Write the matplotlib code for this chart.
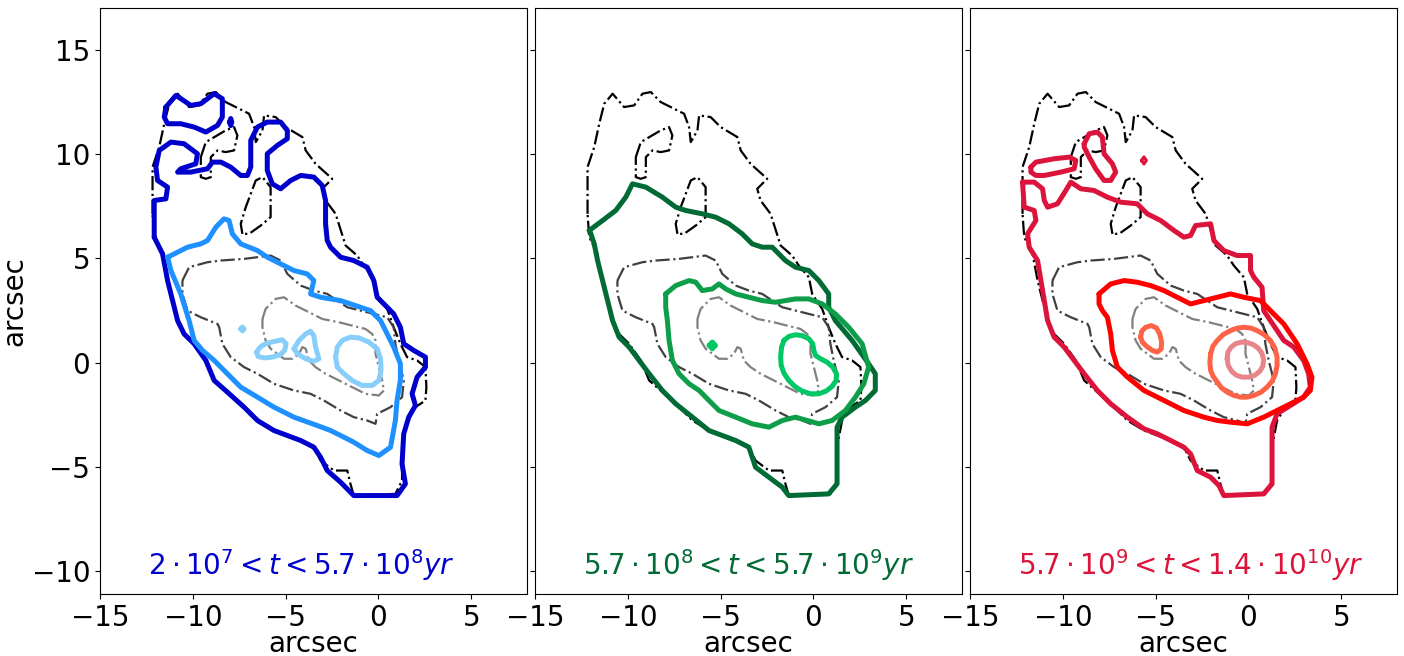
import numpy as np
import matplotlib
matplotlib.use('Agg')
import matplotlib.pyplot as plt

# ---------- contour vertices (arcsec) ----------

# total light, outer level (black)
tot1_x = [-12.17, -12.17, -11.81, -11.54, -11.27, -10.82, -10.20, -9.66, -9.21, -8.76, -8.23, -6.97, -6.70, -6.61,
          -6.25, -6.16, -5.54, -5.00, -4.10, -3.92, -3.39, -2.49, -3.03, -2.85, -2.31, -1.77, -1.15, -0.79, -0.25,
          -0.07, 0.47, 0.82, 1.18, 1.54, 2.08, 2.53, 2.58, 2.53, 1.99, 1.54, 1.27, 1.27, 0.91, -1.33, -1.51, -1.68,
          -2.40, -3.12, -3.48, -4.19, -4.91, -5.63, -6.52, -7.24, -8.14, -8.85, -9.30, -9.93, -10.47, -10.82,
          -11.09, -11.36, -11.63, -11.90, -12.08]
tot1_y = [7.13, 9.37, 10.33, 11.45, 12.41, 12.89, 12.25, 12.33, 12.89, 12.97, 12.49, 11.93, 11.29, 10.57,
          11.13, 11.85, 11.77, 11.29, 10.81, 10.17, 9.53, 8.81, 8.33, 7.77, 7.13, 5.61, 5.13, 4.65, 4.09,
          3.29, 2.57, 1.69, 0.90, 0.26, 0.10, -0.22, -1.18, -1.82, -2.14, -2.78, -4.06, -5.66, -6.30, -6.38, -5.82, -5.18,
          -5.18, -4.70, -4.06, -3.74, -3.50, -3.26, -2.78, -2.14, -1.42, -0.86, 0.10, 0.90, 1.37, 2.01,
          2.97, 3.93, 5.21, 5.69, 6.01]
hole1_x = [-9.57, -9.30, -8.23, -7.78, -7.60, -7.78, -8.23, -8.67, -9.03, -9.03, -9.30, -9.57]
hole1_y = [9.85, 10.57, 11.13, 11.29, 10.89, 10.17, 10.09, 10.17, 9.85, 8.89, 8.81, 8.89]
hole2_x = [-7.33, -7.42, -7.15, -6.61, -6.25, -5.81, -5.81, -6.34, -6.97]
hole2_y = [6.17, 6.65, 7.45, 8.73, 8.89, 8.41, 6.97, 6.57, 6.17]

# total light, middle level (dark grey)
tot2_x = [-10.56, -10.20, -9.21, -8.49, -7.24, -5.81, -5.27, -4.91, -4.19, -3.48, -2.76, -1.68, -0.25, 0.47,
          0.82, 0.91, 1.09, 1.36, 1.27, 0.65, -0.07, -0.16, -0.61, -1.33, -2.04, -2.94, -3.66, -4.55, -5.63,
          -6.52, -7.24, -7.96, -8.41, -8.58, -8.67, -9.57, -10.29, -10.56]
tot2_y = [3.93, 4.57, 4.81, 4.89, 4.97, 5.13, 4.89, 4.25, 3.69, 3.45, 3.29, 2.65, 2.33, 2.17,
          1.69, 0.90, 0.10, -0.86, -1.66, -2.14, -2.46, -2.94, -2.78, -2.62, -2.30, -1.82, -1.50, -1.34, -1.02,
          -0.54, -0.22, 0.26, 0.90, 1.69, 1.85, 2.17, 2.49, 3.29]

# total light, inner level (grey)
tot3_x = [-6.25, -6.08, -5.54, -5.09, -4.46, -3.92, -3.03, -2.13, -1.42, -0.70, -0.34, -0.16, -0.16, 0.02,
          0.20, 0.29, 0.02, -0.70, -1.42, -2.13, -2.85, -3.39, -3.75, -3.92, -4.10, -4.28, -4.64, -5.09,
          -5.45, -5.81, -6.08, -6.25]
tot3_y = [2.09, 2.57, 3.05, 3.13, 2.73, 2.49, 2.09, 1.93, 1.77, 1.61, 1.37, 1.06, 0.42, -0.22,
          -0.86, -1.34, -1.58, -1.50, -1.18, -0.86, -0.54, -0.22, 0.10, 0.66, 0.74, 0.42, 0.18, 0.18,
          0.42, 0.66, 1.06, 1.69]

# young population (2e7 - 5.7e8 yr)
young1_x = [-12.08, -12.08, -11.45, -11.36, -11.90, -11.99, -11.81, -11.18, -10.47, -9.75, -9.84, -10.65, -10.82,
            -10.11, -9.21, -8.94, -8.49, -7.96, -7.42, -7.06, -6.88, -6.88, -6.52, -5.99, -5.27, -4.91, -4.91,
            -5.45, -5.99, -5.99, -5.72, -5.27, -4.73, -4.19, -3.48, -3.03, -2.85, -2.85, -2.76, -2.58, -2.04,
            -1.33, -0.61, -0.25, -0.07, 0.47, 0.82, 1.18, 1.36, 1.90, 2.53, 2.53, 2.08, 1.81, 1.99, 1.63, 1.36,
            1.27, 1.45, 1.00, -1.33, -2.04, -2.76, -3.12, -3.48, -4.19, -4.91, -5.63, -6.52, -7.24, -8.14,
            -8.85, -9.30, -9.93, -10.47, -10.82, -11.09, -11.36, -11.63, -11.90]
young1_y = [6.01, 7.77, 7.85, 8.41, 8.73, 9.37, 10.17, 10.57, 10.49, 10.01, 9.53, 9.29, 9.13,
            9.13, 9.29, 9.61, 9.61, 9.37, 8.97, 8.97, 9.37, 10.65, 11.29, 11.53, 11.53, 11.13, 10.73,
            10.41, 10.01, 9.21, 8.57, 8.33, 8.73, 8.97, 8.89, 8.49, 7.77, 6.65, 5.85, 5.53, 5.05,
            4.89, 4.57, 3.93, 3.13, 2.65, 2.33, 1.69, 0.90, 0.58, 0.26, -0.22, -0.70, -1.50, -2.06, -2.62, -3.42,
            -4.86, -5.82, -6.38, -6.38, -5.74, -5.18, -4.54, -4.06, -3.74, -3.50, -3.26, -2.78, -2.14, -1.42,
            -0.86, 0.10, 0.90, 1.37, 2.01, 2.97, 3.93, 5.21, 5.69]
young1b_x = [-11.45, -10.91, -10.11, -9.57, -8.85, -8.41, -8.41, -8.67, -9.30, -9.93, -10.65, -11.36, -11.54]
young1b_y = [12.25, 12.81, 12.33, 12.41, 12.89, 12.65, 11.77, 11.37, 11.05, 11.29, 11.45, 11.45, 11.77]
young1c_x = [-8.02, -7.96, -7.90, -7.96]
young1c_y = [11.53, 11.70, 11.53, 11.36]

young2_x = [-11.36, -11.00, -10.29, -9.57, -9.21, -8.76, -8.32, -8.05, -7.87, -7.42, -6.52, -5.99, -5.27, -4.55,
            -3.84, -3.48, -3.66, -3.12, -2.04, -0.97, -0.43, 0.11, 0.47, 0.82, 1.18, 1.18, 1.00, 0.91, 0.65,
            0.02, -0.61, -1.33, -2.04, -2.58, -3.30, -4.55, -5.63, -6.52, -7.42, -8.14, -8.85, -9.48, -9.93,
            -10.20, -10.65, -11.18]
young2_y = [5.05, 5.21, 5.53, 5.69, 5.85, 6.49, 6.89, 6.81, 6.17, 5.69, 5.37, 5.05, 4.73, 4.41,
            4.25, 3.93, 3.29, 3.13, 2.97, 2.65, 2.49, 2.01, 1.37, 0.74, -0.06, -0.86, -1.82, -2.78, -4.06,
            -4.46, -4.22, -3.82, -3.50, -3.26, -3.02, -2.62, -2.14, -1.66, -1.18, -0.54, 0.10, 0.58, 1.06,
            2.01, 3.29, 4.41]

young3a_x = [-6.56, -6.38, -6.08, -5.63, -5.18, -4.98, -5.04, -5.27, -5.72, -6.16, -6.49]
young3a_y = [0.50, 0.74, 0.90, 1.01, 1.09, 0.90, 0.61, 0.38, 0.26, 0.22, 0.29]
young3b_x = [-4.55, -4.28, -3.92, -3.66, -3.48, -3.39, -3.21, -3.48, -3.92, -4.37]
young3b_y = [0.66, 1.06, 1.37, 1.50, 1.29, 0.74, 0.18, 0.06, 0.18, 0.42]
young3c_x = [-2.31, -2.22, -1.95, -1.51, -1.06, -0.52, -0.07, 0.11, 0.14, 0.02, -0.34, -0.88, -1.42, -1.86, -2.22]
young3c_y = [0.26, 0.74, 1.06, 1.22, 1.18, 0.98, 0.66, 0.18, -0.38, -0.86, -1.10, -1.10, -0.86, -0.54, -0.22]
young3d_x = [-7.42, -7.33, -7.24, -7.33]
young3d_y = [1.61, 1.70, 1.61, 1.52]

# intermediate population (5.7e8 - 5.7e9 yr)
mid1_x = [-12.08, -11.36, -10.65, -10.11, -9.75, -9.03, -8.14, -7.42, -6.88, -5.99, -5.27, -4.55, -3.84, -3.30,
          -2.76, -2.22, -1.51, -0.97, -0.25, 0.29, 0.82, 0.82, 1.18, 2.08, 2.97, 3.33, 3.33, 2.80, 2.26, 1.54,
          1.27, 1.27, 1.27, 0.82, -1.33, -1.68, -2.40, -3.12, -3.48, -4.19, -4.91, -5.63, -6.52, -7.42, -8.14,
          -8.85, -9.39, -9.93, -10.47, -10.82, -11.09, -11.36, -11.63, -11.81, -11.99]
mid1_y = [6.33, 6.81, 7.29, 7.93, 8.57, 8.41, 7.93, 7.45, 7.29, 7.13, 6.97, 6.65, 6.17, 5.69,
          5.53, 5.53, 4.89, 4.57, 4.41, 3.93, 3.29, 2.65, 2.01, 1.06, -0.06, -0.54, -1.34, -1.82, -2.14, -2.62,
          -3.10, -4.06, -5.82, -6.30, -6.38, -5.98, -5.50, -5.02, -4.06, -3.74, -3.50, -3.26, -2.62, -1.98, -1.34,
          -0.54, 0.10, 0.74, 1.22, 2.01, 2.97, 3.93, 4.89, 5.69, 6.17]
mid2_x = [-7.96, -7.42, -6.70, -6.34, -5.99, -5.45, -5.09, -4.73, -4.19, -3.48, -2.76, -2.04, -0.97, -0.25,
          0.47, 1.18, 1.90, 2.62, 2.97, 2.71, 2.26, 1.72, 1.00, 0.29, -0.97, -1.68, -2.40, -3.30, -4.19,
          -5.09, -5.63, -6.16, -6.70, -7.24, -7.60, -7.78, -7.87, -7.96]
mid2_y = [3.29, 3.69, 3.93, 3.85, 3.45, 3.53, 3.77, 3.53, 3.29, 3.13, 2.97, 2.89, 3.05, 3.05,
          2.81, 2.33, 1.69, 0.90, -0.22, -1.02, -1.66, -2.30, -2.78, -2.94, -2.62, -2.78, -3.10, -2.94, -2.62,
          -2.30, -1.82, -1.34, -1.02, -0.54, 0.10, 1.06, 2.01, 2.65]
mid3a_x = [-1.59, -1.33, -0.97, -0.61, -0.25, -0.04, 0.02, 0.11, 0.38, 0.73, 1.04, 1.24, 1.22, 1.00, 0.68,
           0.29, -0.16, -0.61, -1.00, -1.33, -1.59, -1.74, -1.77, -1.72]
mid3a_y = [1.06, 1.25, 1.33, 1.29, 1.14, 0.90, 0.58, 0.34, 0.18, 0.02, -0.22, -0.54, -0.86, -1.15, -1.37,
           -1.50, -1.50, -1.37, -1.15, -0.86, -0.51, -0.14, 0.26, 0.74]
mid3b_x = [-5.62, -5.45, -5.28, -5.45]
mid3b_y = [0.82, 0.98, 0.82, 0.66]

# old population (5.7e9 - 1.4e10 yr)
old1_x = [-12.17, -11.54, -11.09, -11.00, -10.82, -10.29, -9.84, -9.57, -9.03, -8.32, -7.60, -6.88, -5.99, -5.45,
          -4.73, -4.01, -3.48, -3.12, -2.85, -2.04, -1.86, -1.33, -0.61, 0.11, 0.11, 0.29, 0.73, 0.82, 1.18,
          1.90, 2.44, 2.97, 3.24, 3.33, 2.97, 2.26, 1.54, 1.27, 1.27, 0.82, -1.33, -1.59, -2.04, -2.76, -3.12,
          -3.48, -4.19, -4.91, -5.63, -6.52, -7.42, -8.14, -8.85, -9.39, -9.93, -10.47, -10.82, -11.00, -11.18,
          -11.36, -11.81, -11.90, -11.45, -11.54, -12.08]
old1_y = [8.65, 8.65, 8.33, 7.77, 7.45, 7.61, 8.25, 8.65, 8.33, 8.25, 7.93, 7.69, 7.61, 7.13,
          6.81, 6.33, 6.01, 6.09, 6.57, 6.65, 5.85, 5.37, 5.13, 5.13, 4.41, 4.09, 3.61, 2.49, 2.01,
          1.06, 0.74, 0.10, -0.54, -1.18, -1.66, -2.06, -2.46, -3.10, -5.82, -6.30, -6.38, -5.90, -5.50, -5.18, -4.38,
          -4.06, -3.74, -3.42, -3.18, -2.62, -1.98, -1.34, -0.54, 0.10, 0.74, 1.22, 2.01, 2.97, 3.93,
          4.89, 5.53, 6.17, 6.81, 7.29, 7.45]
old1b_x = [-11.72, -11.45, -10.47, -9.66, -9.30, -9.39, -10.11, -11.00, -11.45, -11.72]
old1b_y = [9.37, 9.61, 9.77, 9.85, 9.69, 9.29, 9.13, 8.97, 8.97, 9.13]
old1c_x = [-8.85, -8.58, -8.14, -7.87, -7.78, -7.33, -7.15, -7.42, -7.78, -8.23, -8.58, -8.85]
old1c_y = [10.49, 10.97, 11.05, 10.81, 10.01, 9.53, 9.13, 8.73, 8.73, 9.29, 9.85, 10.33]
old1d_x = [-5.76, -5.63, -5.50, -5.63]
old1d_y = [9.69, 9.86, 9.69, 9.52]
old2_x = [-8.05, -7.42, -6.70, -5.99, -5.27, -4.55, -3.84, -3.12, -2.40, -1.68, -0.97, -0.25, 0.65, 1.18,
          1.90, 2.62, 3.15, 3.42, 3.33, 2.97, 2.26, 1.54, 0.82, -0.07, -0.97, -1.68, -2.40, -3.48, -4.55,
          -5.63, -6.52, -7.06, -7.33, -7.42, -7.60, -7.87, -8.05]
old2_y = [3.29, 3.77, 3.93, 3.85, 3.69, 3.45, 3.13, 2.81, 2.97, 3.13, 3.29, 3.13, 2.97, 2.49,
          1.85, 0.90, -0.06, -0.70, -1.34, -1.66, -1.98, -2.30, -2.62, -2.94, -2.86, -2.78, -2.62, -2.30, -1.82,
          -1.34, -0.70, -0.22, 0.58, 1.37, 2.17, 2.49, 2.81]
old3a_x = [-5.81, -5.75, -5.54, -5.23, -4.96, -4.78, -4.68, -4.70, -4.91, -5.18, -5.48, -5.72]
old3a_y = [1.22, 1.50, 1.69, 1.77, 1.66, 1.37, 0.98, 0.66, 0.50, 0.58, 0.77, 0.98]
old3b_x = [-2.04, -1.92, -1.68, -1.36, -0.97, -0.61, -0.25, 0.14, 0.47, 0.86, 1.18, 1.42, 1.54, 1.54,
           1.45, 1.27, 1.00, 0.68, 0.29, -0.07, -0.43, -0.79, -1.15, -1.45, -1.68, -1.90, -2.04, -2.08]
old3b_y = [0.42, 0.78, 1.06, 1.34, 1.53, 1.65, 1.69, 1.65, 1.53, 1.33, 1.06, 0.69, 0.26, -0.14,
           -0.54, -0.90, -1.18, -1.42, -1.58, -1.66, -1.66, -1.58, -1.42, -1.22, -0.94, -0.67, -0.38, 0.02]
old4_x = [-1.15, -1.11, -0.93, -0.70, -0.39, -0.07, 0.25, 0.52, 0.72, 0.82, 0.77, 0.61, 0.34, 0.02,
          -0.34, -0.65, -0.91, -1.09]
old4_y = [0.18, 0.50, 0.74, 0.90, 0.98, 0.96, 0.86, 0.69, 0.45, 0.13, -0.18, -0.42, -0.61, -0.70,
          -0.70, -0.61, -0.42, -0.14]

labels = [r'$2\cdot10^7<t<5.7\cdot10^8yr$',
          r'$5.7\cdot10^8<t<5.7\cdot10^9yr$',
          r'$5.7\cdot10^9<t<1.4\cdot10^{10}yr$']
label_colors = ['#0000CD', '#006B35', '#DC143C']


def loop(ax, x, y, color, lw, ls='-'):
    x = list(x) + [x[0]]
    y = list(y) + [y[0]]
    ax.plot(x, y, color=color, lw=lw, ls=ls, solid_joinstyle='round',
            solid_capstyle='round', dash_joinstyle='round')


def draw_total(ax):
    loop(ax, tot1_x, tot1_y, 'black', 1.6, '-.')
    loop(ax, hole1_x, hole1_y, 'black', 1.6, '-.')
    loop(ax, hole2_x, hole2_y, 'black', 1.6, '-.')
    loop(ax, tot2_x, tot2_y, '#404040', 1.6, '-.')
    loop(ax, tot3_x, tot3_y, '#808080', 1.6, '-.')


fig = plt.figure(figsize=(14.04, 6.56), dpi=100)
lefts = [100 / 1404, 535 / 1404, 970 / 1404]
axes = [fig.add_axes([l, 1 - 594 / 656, 427 / 1404, 586 / 656]) for l in lefts]

lw = 3.6
# panel 1
ax = axes[0]
draw_total(ax)
loop(ax, young1_x, young1_y, '#0000CD', lw)
loop(ax, young1b_x, young1b_y, '#0000CD', lw)
loop(ax, young1c_x, young1c_y, '#0000CD', lw)
loop(ax, young2_x, young2_y, '#1E90FF', lw)
for xs, ys in [(young3a_x, young3a_y), (young3b_x, young3b_y), (young3c_x, young3c_y), (young3d_x, young3d_y)]:
    loop(ax, xs, ys, '#87CEFA', lw)

# panel 2
ax = axes[1]
draw_total(ax)
loop(ax, mid1_x, mid1_y, '#006B35', lw)
loop(ax, mid2_x, mid2_y, '#0E9E4A', lw)
loop(ax, mid3a_x, mid3a_y, '#00C864', lw)
loop(ax, mid3b_x, mid3b_y, '#00C864', lw)

# panel 3
ax = axes[2]
draw_total(ax)
loop(ax, old1_x, old1_y, '#DC143C', lw)
loop(ax, old1b_x, old1b_y, '#DC143C', lw)
loop(ax, old1c_x, old1c_y, '#DC143C', lw)
loop(ax, old1d_x, old1d_y, '#DC143C', 2.2)
loop(ax, old2_x, old2_y, '#FF0000', lw)
loop(ax, old3a_x, old3a_y, '#FF6347', lw)
loop(ax, old3b_x, old3b_y, '#FF6347', lw)
loop(ax, old4_x, old4_y, '#E8858A', lw)

for i, ax in enumerate(axes):
    ax.set_xlim(-15, 8)
    ax.set_ylim(-11.1, 17)
    ax.set_xticks([-15, -10, -5, 0, 5])
    ax.set_yticks([-10, -5, 0, 5, 10, 15])
    ax.tick_params(labelsize=20)
    ax.set_xlabel('arcsec', fontsize=20, labelpad=-1.5)
    ax.text(-12.4, -10.2, labels[i], color=label_colors[i], fontsize=20, va='baseline')
    if i > 0:
        ax.set_yticklabels([])
axes[0].set_ylabel('arcsec', fontsize=20, labelpad=2)

fig.savefig('out.png', dpi=100)
